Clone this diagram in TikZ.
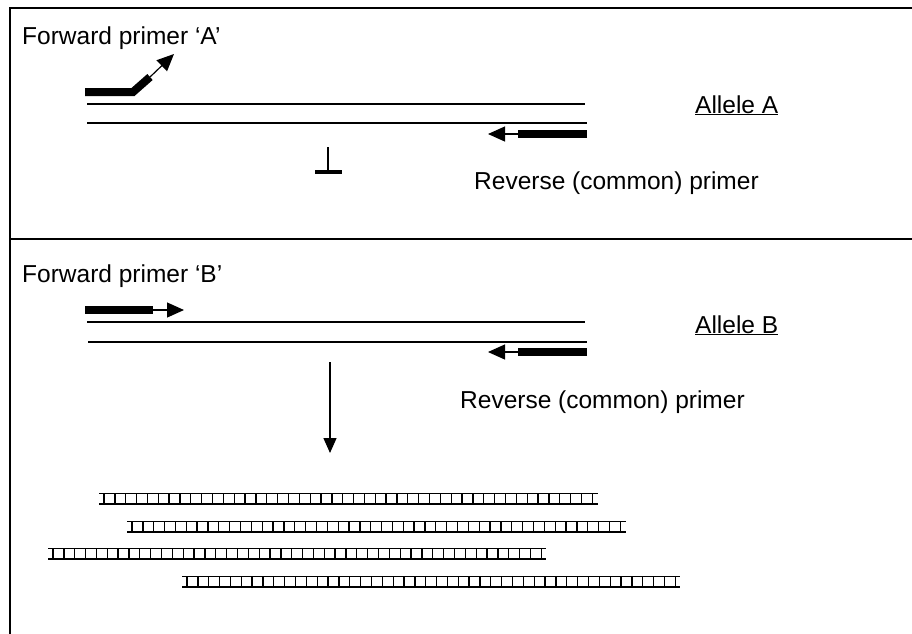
\documentclass[tikz,border=0pt]{standalone}
\usepackage{fontspec}
\setmainfont{Liberation Sans}
\usetikzlibrary{arrows.meta}
\begin{document}
\begin{tikzpicture}[x=1pt,y=-1pt,
  label text/.style={font=\fontsize{24.5}{29}\selectfont, inner sep=0pt, anchor=base west},
  strand/.style={line width=1.6pt},
  primerbar/.style={line width=8pt},
  primertip/.style={line width=1.2pt, -{Triangle[length=17pt,width=15pt]}},
  frameline/.style={line width=2pt}]
\useasboundingbox (0,0) rectangle (912,633);

% outer frame and panel divider
\coordinate (fTR) at (914,8);
\coordinate (fTL) at (10,8);
\coordinate (fBL) at (10,635);
\coordinate (dL) at (10,239);
\coordinate (dR) at (914,239);
\draw[frameline] (fTR) -- (fTL) -- (fBL);
\draw[frameline] (dL) -- (dR);

% ---------- allele A ----------
\node[label text] (fwdA) at (22,44) {Forward primer `A'};
\node[label text] (alleleA) at (695,113) {\underline{Allele A}};
\node[label text] (revA) at (474,189) {Reverse (common) primer};

\coordinate (a1L) at (87,104);  \coordinate (a1R) at (585,104);
\coordinate (a2L) at (87,123);  \coordinate (a2R) at (587,123);
\draw[strand] (a1L) -- (a1R);
\draw[strand] (a2L) -- (a2R);

% mismatched forward primer, bent away from the template
\coordinate (pA0) at (85,92);
\coordinate (pA1) at (133,92);
\coordinate (pA2) at (150,77);
\coordinate (pA3) at (174,54);
\draw[primerbar, line join=miter] (pA0) -- (pA1) -- (pA2);
\draw[primertip] (pA2) -- (pA3);

% reverse primer on the lower strand
\coordinate (rA0) at (587,134);
\coordinate (rA1) at (518,134);
\coordinate (rA2) at (488,134);
\draw[primerbar] (rA0) -- (rA1);
\draw[primertip] (rA1) -- (rA2);

% no extension
\coordinate (stopTop) at (328,147);
\coordinate (stopBot) at (328,172);
\coordinate (stopL) at (315,172);
\coordinate (stopR) at (342,172);
\draw[line width=1.4pt] (stopTop) -- (stopBot);
\draw[line width=4pt] (stopL) -- (stopR);

% ---------- allele B ----------
\node[label text] (fwdB) at (22,282) {Forward primer `B'};
\node[label text] (alleleB) at (695,333) {\underline{Allele B}};
\node[label text] (revB) at (460,408) {Reverse (common) primer};

\coordinate (b1L) at (87,322);  \coordinate (b1R) at (585,322);
\coordinate (b2L) at (88,342);  \coordinate (b2R) at (587,342);
\draw[strand] (b1L) -- (b1R);
\draw[strand] (b2L) -- (b2R);

\coordinate (pB0) at (85,310);
\coordinate (pB1) at (153,310);
\coordinate (pB2) at (184,310);
\draw[primerbar] (pB0) -- (pB1);
\draw[primertip] (pB1) -- (pB2);

\coordinate (rB0) at (587,352);
\coordinate (rB1) at (518,352);
\coordinate (rB2) at (488,352);
\draw[primerbar] (rB0) -- (rB1);
\draw[primertip] (rB1) -- (rB2);

% amplification
\coordinate (ampTop) at (330,362);
\coordinate (ampBot) at (330,453);
\draw[line width=1.3pt, -{Triangle[length=15pt,width=13pt]}] (ampTop) -- (ampBot);

% amplified products drawn as ladders
\foreach \xs/\xe/\yt in {99/598/493, 127/626/521, 48/546/548, 182/680/576}{
  \draw[line width=0.9pt] (\xs,\yt) -- (\xe,\yt);
  \draw[line width=1.5pt] (\xs,\yt+11) -- (\xe,\yt+11);
  \pgfmathsetmacro{\nr}{int(floor((\xe-\xs-8)/10.85))}
  \foreach \k in {0,...,\nr}{
    \draw[line width=1.3pt] ({\xs+5+\k*10.85},\yt) -- ({\xs+5+\k*10.85},\yt+11);
  }
}
\end{tikzpicture}
\end{document}
